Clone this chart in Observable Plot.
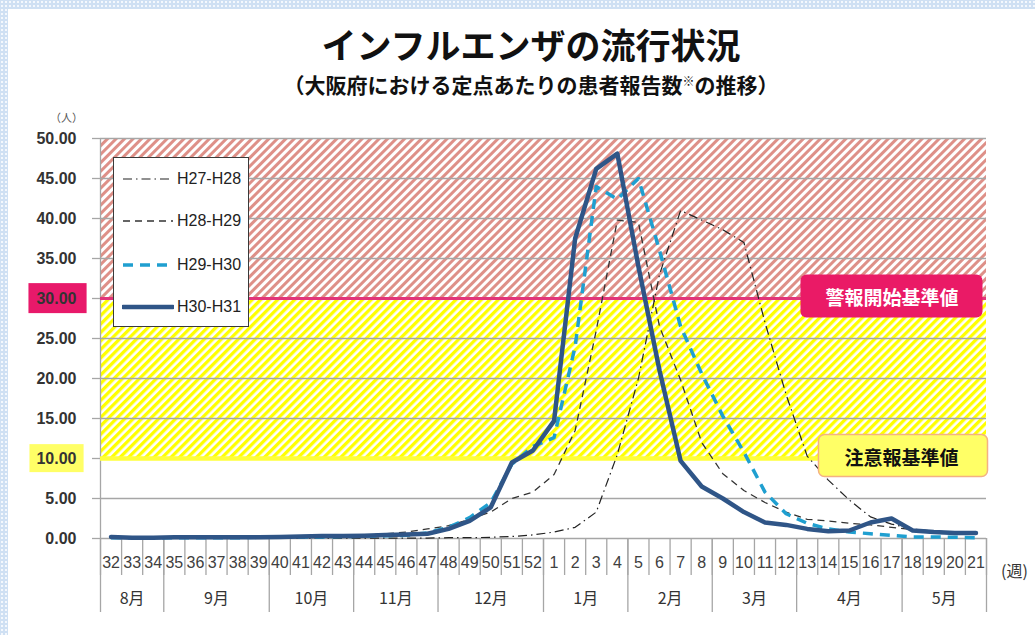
<!DOCTYPE html>
<html>
<head>
<meta charset="utf-8">
<script src="https://cdn.jsdelivr.net/npm/d3@7"></script>
<script src="https://cdn.jsdelivr.net/npm/@observablehq/plot@0.6"></script>
<style>
  html, body { margin: 0; padding: 0; }
  body {
    width: 1035px; height: 635px; overflow: hidden; position: relative;
    background-color: #cfe0f3;
    background-image: radial-gradient(#f4f8fd 1px, transparent 1.3px);
    background-size: 4px 4px;
  }
  #panel { position: absolute; left: 8px; top: 9px; right: 0; bottom: 0; background: #fff; }
  .cjk { font-family: "Noto Sans CJK JP", sans-serif; }
  #title { position: absolute; left: 0; width: 1062px; top: 26px; text-align: center;
    font-size: 35px; line-height: 1; font-weight: 700; color: #111; }
  #subtitle { position: absolute; left: 0; width: 1062px; top: 74px; text-align: center;
    font-size: 21px; line-height: 1; font-weight: 700; color: #111; }
  #subtitle .sup { font-size: 12px; position: relative; top: -7px; }
  #unit { position: absolute; left: 50px; top: 109px; font-size: 11px; color: #555; }
  #weekunit { position: absolute; left: 1001px; top: 558px; font-size: 16px; color: #333; }
  #chart { position: absolute; left: 0; top: 100px; }
  #legend { position: absolute; left: 113px; top: 157px; width: 134px; height: 168px;
    background: #fff; border: 1.5px solid #3a3a3a; }
  #legend .row { position: absolute; left: 0; height: 20px; }
  #legend svg { position: absolute; left: 8px; top: 5px; }
  #legend span { position: absolute; left: 63px; top: 0; font-family: "Liberation Sans", Arial, sans-serif;
    font-size: 16px; line-height: 20px; color: #222; white-space: nowrap; }
</style>
</head>
<body>
<svg width="0" height="0" style="position:absolute">
  <defs>
    <pattern id="hatchRed" patternUnits="userSpaceOnUse" width="6" height="6" patternTransform="rotate(45)">
      <rect width="6" height="6" fill="#ffffff"></rect>
      <rect width="3" height="6" fill="#de9088"></rect>
    </pattern>
    <pattern id="hatchYellow" patternUnits="userSpaceOnUse" width="6" height="6" patternTransform="rotate(45)">
      <rect width="6" height="6" fill="#ffffff"></rect>
      <rect width="3.3" height="6" fill="#ffff00"></rect>
    </pattern>
  </defs>
</svg>
<div id="panel"></div>
<div id="title" class="cjk">インフルエンザの流行状況</div>
<div id="subtitle" class="cjk">（大阪府における定点あたりの患者報告数<span class="sup">※</span>の推移）</div>
<div id="unit" class="cjk">（人）</div>
<div id="weekunit" class="cjk">(週)</div>
<div id="chart"></div>
<div id="legend"></div>

<script>
// ---------- data ----------
const weeks = [32,33,34,35,36,37,38,39,40,41,42,43,44,45,46,47,48,49,50,51,52,
               1,2,3,4,5,6,7,8,9,10,11,12,13,14,15,16,17,18,19,20,21];
const months = ["8月","9月","10月","11月","12月","1月","2月","3月","4月","5月"];
const monthWeekCounts = [3,5,4,4,5,4,4,4,5,4];

const seriesNames = ["H27-H28","H28-H29","H29-H30","H30-H31"];

const h27h28 = [0.05,0.05,0.05,0.05,0.05,0.05,0.05,0.05,0.05,0.05,0.05,0.05,0.05,0.05,0.05,0.05,
                0.1,0.1,0.15,0.25,0.45,
                0.8,1.4,3.3,10.5,20.0,33.0,41.0,39.8,38.6,37.0,27.0,18.0,10.3,7.3,4.8,2.7,1.8,1.2,0.9,0.7,0.6];
const h28h29 = [0.1,0.1,0.1,0.1,0.1,0.1,0.15,0.15,0.2,0.2,0.25,0.3,0.45,0.6,0.8,1.2,
                1.6,2.4,3.3,5.0,5.8,
                8.0,13.5,26.0,39.8,39.5,26.5,19.8,12.0,8.1,6.0,4.5,3.3,2.4,2.2,1.9,1.7,1.4,1.1,0.9,0.8,0.7];
const h29h30 = [0.1,0.1,0.1,0.1,0.1,0.1,0.1,0.15,0.15,0.2,0.2,0.25,0.3,0.35,0.4,0.7,
                1.4,2.6,4.5,9.3,11.5,
                12.6,24.0,44.0,42.4,45.0,36.0,26.5,20.6,15.3,10.8,5.8,3.1,1.9,1.2,0.8,0.6,0.4,0.2,0.2,0.15,0.1];
const h30h31 = [0.2,0.1,0.1,0.15,0.15,0.15,0.15,0.15,0.2,0.25,0.3,0.3,0.35,0.45,0.5,0.6,
                1.2,2.2,3.9,9.5,11.0,
                14.7,37.5,46.2,48.1,34.0,21.0,9.7,6.5,5.0,3.3,2.0,1.7,1.2,0.9,1.0,2.0,2.5,1.0,0.8,0.7,0.7];

const yTicks = [0,5,10,15,20,25,30,35,40,45,50];
const warningLevel = 30;
const warningLabel = "警報開始基準値";
const advisoryLevel = 10;
const advisoryLabel = "注意報基準値";

// ---------- styles ----------
const seriesStyles = [
  {stroke: "#222", strokeWidth: 1.2, strokeDasharray: "9,4,1.5,4"},
  {stroke: "#333", strokeWidth: 1.3, strokeDasharray: "7,5"},
  {stroke: "#1f9fd0", strokeWidth: 3.5, strokeDasharray: "10,7"},
  {stroke: "#2f5587", strokeWidth: 4.5, strokeDasharray: null}
];
const seriesData = [h27h28, h28h29, h29h30, h30h31];

// ---------- derived ----------
const n = weeks.length;
const idx = weeks.map((w, i) => i);
const weekBounds = d3.range(n + 1).map(i => i - 0.5);
const monthBounds = [-0.5];
monthWeekCounts.forEach(c => monthBounds.push(monthBounds[monthBounds.length - 1] + c));
const monthCenters = months.map((m, k) => (monthBounds[k] + monthBounds[k + 1]) / 2);

const zones = [
  {x1: -0.5, x2: n - 0.5, y1: warningLevel, y2: d3.max(yTicks), fill: "url(#hatchRed)"},
  {x1: -0.5, x2: n - 0.5, y1: advisoryLevel, y2: warningLevel, fill: "url(#hatchYellow)"}
];
const thresholdLabels = [
  {value: warningLevel, label: warningLabel, fill: "#fff"},
  {value: advisoryLevel, label: advisoryLabel, fill: "#111"}
];

const gray = "#a6a6a6";
const marks = [
  Plot.rect([zones[0]], {x1: "x1", x2: "x2", y1: "y1", y2: "y2", fill: zones[0].fill}),
  Plot.rect([zones[1]], {x1: "x1", x2: "x2", y1: "y1", y2: "y2", fill: zones[1].fill}),
  Plot.ruleY(yTicks, {stroke: gray, strokeWidth: 1.3}),
  Plot.ruleX([-0.5], {stroke: gray, strokeWidth: 1.3}),
  Plot.ruleY([warningLevel], {stroke: "#e2357a", strokeWidth: 3}),
  Plot.ruleY([advisoryLevel], {stroke: "#ffff3a", strokeWidth: 4.5}),
  Plot.axisY(yTicks, {
    tickSize: 8, tickPadding: 16, stroke: gray, strokeWidth: 1.3,
    tickFormat: d3.format(".2f"), fontSize: 16, fontWeight: "bold",
    fontFamily: "'Liberation Sans', Arial, sans-serif", fill: "#333", ariaLabel: "y-axis"
  }),
  Plot.axisX(weekBounds, {tickSize: 37, stroke: gray, strokeWidth: 1.3, tickFormat: () => ""}),
  Plot.axisX(monthBounds, {tickSize: 74, stroke: gray, strokeWidth: 1.3, tickFormat: () => ""}),
  Plot.axisX(idx, {
    tickSize: 0, tickPadding: 18, tickFormat: d => String(weeks[Math.round(d)]),
    fontSize: 16, fontFamily: "'Liberation Sans', Arial, sans-serif", fill: "#404040"
  }),
  Plot.axisX(monthCenters, {
    tickSize: 0, tickPadding: 54, tickFormat: d => months[monthCenters.indexOf(d)],
    fontSize: 16, fontFamily: "'Noto Sans CJK JP', sans-serif", fill: "#333"
  })
];
seriesData.forEach((arr, s) => {
  const st = seriesStyles[s];
  const opts = {x: (d, i) => i, y: d => d, stroke: st.stroke, strokeWidth: st.strokeWidth,
                strokeLinejoin: "round", strokeLinecap: s === 3 ? "round" : "butt"};
  if (st.strokeDasharray) opts.strokeDasharray = st.strokeDasharray;
  marks.push(Plot.line(arr, opts));
});
marks.push(Plot.text(thresholdLabels, {
  x: () => n - 0.5, y: "value", text: "label", fill: "fill", textAnchor: "end", dx: -28,
  fontSize: 19, fontWeight: "bold", fontFamily: "'Noto Sans CJK JP', sans-serif",
  ariaLabel: "threshold label"
}));

const chart = Plot.plot({
  width: 1035, height: 535,
  marginTop: 38, marginBottom: 97, marginLeft: 100, marginRight: 49,
  x: {type: "linear", domain: [-0.5, n - 0.5], axis: null},
  y: {domain: [0, 50], axis: null},
  color: {type: "identity"},
  style: {background: "transparent", overflow: "visible"},
  marks
});
document.getElementById("chart").appendChild(chart);

// ---------- label backgrounds ----------
const SVGNS = "http://www.w3.org/2000/svg";
function addBg(textEl, o) {
  const b = textEl.getBBox();
  const r = document.createElementNS(SVGNS, "rect");
  r.setAttribute("x", b.x - o.padL);
  r.setAttribute("y", b.y - o.padT);
  r.setAttribute("width", b.width + o.padL + o.padR);
  r.setAttribute("height", b.height + o.padT + o.padB);
  r.setAttribute("rx", o.rx || 0);
  r.setAttribute("fill", o.fill);
  if (o.stroke) { r.setAttribute("stroke", o.stroke); r.setAttribute("stroke-width", o.strokeWidth || 1.5); }
  const t = textEl.getAttribute("transform");
  if (t) r.setAttribute("transform", t);
  textEl.parentNode.insertBefore(r, textEl);
}
chart.querySelectorAll("text").forEach(t => {
  const s = t.textContent;
  if (s === d3.format(".2f")(warningLevel)) addBg(t, {fill: "#e8196a", padL: 8, padR: 10, padT: 6.5, padB: 6.5});
  else if (s === d3.format(".2f")(advisoryLevel)) addBg(t, {fill: "#ffff66", padL: 7, padR: 7, padT: 5.5, padB: 5.5});
  else if (s === warningLabel) addBg(t, {fill: "#ea1a66", padL: 25, padR: 24, padT: 8, padB: 8, rx: 6});
  else if (s === advisoryLabel) addBg(t, {fill: "#ffff66", stroke: "#f4b183", padL: 26, padR: 29, padT: 8, padB: 7, rx: 6});
});

// ---------- legend ----------
const legend = document.getElementById("legend");
const rowTops = [11, 53, 97, 139];
seriesNames.forEach((name, s) => {
  const st = seriesStyles[s];
  const row = document.createElement("div");
  row.className = "row";
  row.style.top = rowTops[s] + "px";
  row.style.width = "134px";
  row.innerHTML =
    `<svg width="52" height="10"><line x1="1" y1="5" x2="51" y2="5" stroke="${st.stroke}" stroke-width="${st.strokeWidth}"` +
    (st.strokeDasharray ? ` stroke-dasharray="${st.strokeDasharray}"` : ` stroke-linecap="round"`) +
    `></line></svg><span>${name}</span>`;
  legend.appendChild(row);
});
</script>
</body>
</html>
